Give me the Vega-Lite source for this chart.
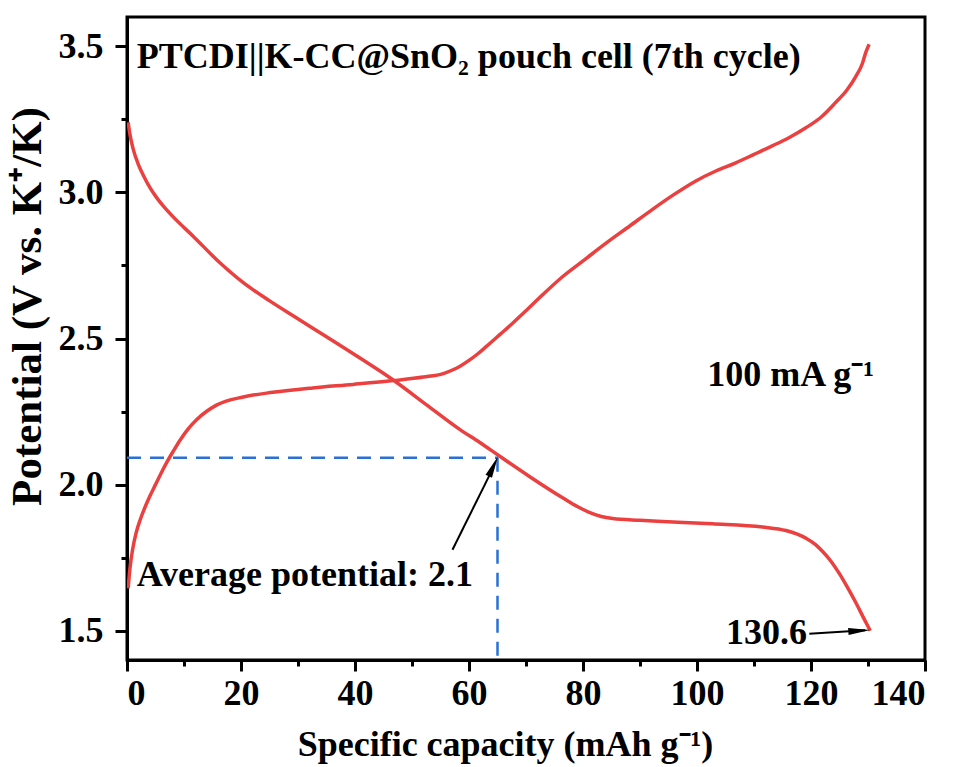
{
  "$schema": "https://vega.github.io/schema/vega-lite/v6.json",
  "width": 798,
  "height": 643,
  "autosize": {"type": "none"},
  "padding": {"left": 127, "top": 17, "right": 28, "bottom": 107},
  "background": "white",
  "datasets": {
    "curves": [
      {"series": "charge", "cap": 0.2, "V": 1.645},
      {"series": "charge", "cap": 0.5, "V": 1.71},
      {"series": "charge", "cap": 1.0, "V": 1.78},
      {"series": "charge", "cap": 1.6, "V": 1.835},
      {"series": "charge", "cap": 2.3, "V": 1.879},
      {"series": "charge", "cap": 3.0, "V": 1.915},
      {"series": "charge", "cap": 4.0, "V": 1.96},
      {"series": "charge", "cap": 5.0, "V": 2.0},
      {"series": "charge", "cap": 6.0, "V": 2.04},
      {"series": "charge", "cap": 7.0, "V": 2.077},
      {"series": "charge", "cap": 8.2, "V": 2.117},
      {"series": "charge", "cap": 9.3, "V": 2.152},
      {"series": "charge", "cap": 10.7, "V": 2.19},
      {"series": "charge", "cap": 12.2, "V": 2.222},
      {"series": "charge", "cap": 15.7, "V": 2.272},
      {"series": "charge", "cap": 20.4, "V": 2.3},
      {"series": "charge", "cap": 25.6, "V": 2.316},
      {"series": "charge", "cap": 32.6, "V": 2.331},
      {"series": "charge", "cap": 39.7, "V": 2.343},
      {"series": "charge", "cap": 46.7, "V": 2.356},
      {"series": "charge", "cap": 52.0, "V": 2.368},
      {"series": "charge", "cap": 55.5, "V": 2.38},
      {"series": "charge", "cap": 57.2, "V": 2.393},
      {"series": "charge", "cap": 58.5, "V": 2.406},
      {"series": "charge", "cap": 60.0, "V": 2.425},
      {"series": "charge", "cap": 61.5, "V": 2.447},
      {"series": "charge", "cap": 63.0, "V": 2.472},
      {"series": "charge", "cap": 65.5, "V": 2.515},
      {"series": "charge", "cap": 67.7, "V": 2.553},
      {"series": "charge", "cap": 70.0, "V": 2.595},
      {"series": "charge", "cap": 72.4, "V": 2.64},
      {"series": "charge", "cap": 76.5, "V": 2.713},
      {"series": "charge", "cap": 80.3, "V": 2.77},
      {"series": "charge", "cap": 84.1, "V": 2.827},
      {"series": "charge", "cap": 88.2, "V": 2.885},
      {"series": "charge", "cap": 92.2, "V": 2.942},
      {"series": "charge", "cap": 96.0, "V": 2.993},
      {"series": "charge", "cap": 99.8, "V": 3.039},
      {"series": "charge", "cap": 103.3, "V": 3.073},
      {"series": "charge", "cap": 106.8, "V": 3.101},
      {"series": "charge", "cap": 110.0, "V": 3.13},
      {"series": "charge", "cap": 113.2, "V": 3.159},
      {"series": "charge", "cap": 116.2, "V": 3.188},
      {"series": "charge", "cap": 119.1, "V": 3.221},
      {"series": "charge", "cap": 121.8, "V": 3.258},
      {"series": "charge", "cap": 124.3, "V": 3.307},
      {"series": "charge", "cap": 126.3, "V": 3.35},
      {"series": "charge", "cap": 127.9, "V": 3.398},
      {"series": "charge", "cap": 129.0, "V": 3.44},
      {"series": "charge", "cap": 129.6, "V": 3.478},
      {"series": "charge", "cap": 130.2, "V": 3.507},
      {"series": "discharge", "cap": 0.2, "V": 3.24},
      {"series": "discharge", "cap": 0.5, "V": 3.2},
      {"series": "discharge", "cap": 1.1, "V": 3.147},
      {"series": "discharge", "cap": 2.0, "V": 3.095},
      {"series": "discharge", "cap": 2.9, "V": 3.057},
      {"series": "discharge", "cap": 4.0, "V": 3.017},
      {"series": "discharge", "cap": 5.2, "V": 2.982},
      {"series": "discharge", "cap": 6.5, "V": 2.95},
      {"series": "discharge", "cap": 8.1, "V": 2.916},
      {"series": "discharge", "cap": 11.6, "V": 2.85},
      {"series": "discharge", "cap": 16.3, "V": 2.759},
      {"series": "discharge", "cap": 20.4, "V": 2.691},
      {"series": "discharge", "cap": 25.1, "V": 2.628},
      {"series": "discharge", "cap": 29.7, "V": 2.571},
      {"series": "discharge", "cap": 35.0, "V": 2.506},
      {"series": "discharge", "cap": 40.8, "V": 2.434},
      {"series": "discharge", "cap": 46.7, "V": 2.358},
      {"series": "discharge", "cap": 52.5, "V": 2.274},
      {"series": "discharge", "cap": 58.3, "V": 2.19},
      {"series": "discharge", "cap": 61.9, "V": 2.144},
      {"series": "discharge", "cap": 65.4, "V": 2.097},
      {"series": "discharge", "cap": 70.6, "V": 2.028},
      {"series": "discharge", "cap": 76.5, "V": 1.954},
      {"series": "discharge", "cap": 79.0, "V": 1.925},
      {"series": "discharge", "cap": 81.1, "V": 1.905},
      {"series": "discharge", "cap": 83.2, "V": 1.891},
      {"series": "discharge", "cap": 85.2, "V": 1.884},
      {"series": "discharge", "cap": 90.0, "V": 1.878},
      {"series": "discharge", "cap": 94.0, "V": 1.874},
      {"series": "discharge", "cap": 102.7, "V": 1.866},
      {"series": "discharge", "cap": 111.5, "V": 1.855},
      {"series": "discharge", "cap": 115.6, "V": 1.843},
      {"series": "discharge", "cap": 119.1, "V": 1.817},
      {"series": "discharge", "cap": 120.8, "V": 1.795},
      {"series": "discharge", "cap": 122.0, "V": 1.772},
      {"series": "discharge", "cap": 123.5, "V": 1.738},
      {"series": "discharge", "cap": 124.9, "V": 1.698},
      {"series": "discharge", "cap": 126.5, "V": 1.645},
      {"series": "discharge", "cap": 127.9, "V": 1.595},
      {"series": "discharge", "cap": 129.2, "V": 1.545},
      {"series": "discharge", "cap": 130.4, "V": 1.5}
    ],
    "guides": [
      {"x": 0, "y": 2.092, "x2": 65.0, "y2": 2.092},
      {"x": 65.0, "y": 2.092, "x2": 65.0, "y2": 1.4}
    ],
    "arrows": [
      {"x": 57.1, "y": 1.777, "x2": 64.3, "y2": 2.06},
      {"x": 119.7, "y": 1.49, "x2": 129.5, "y2": 1.502}
    ],
    "head1": [{"x": 65.1, "y": 2.097}],
    "head2": [{"x": 130.4, "y": 1.503}],
    "labelsLeft": [
      {"x": 1.7, "y": 3.427, "text": "PTCDI||K-CC@SnO₂ pouch cell (7th cycle)"},
      {"x": 1.7, "y": 1.652, "text": "Average potential: 2.1"},
      {"x": 101.8, "y": 2.337, "text": "100 mA g⁻¹"}
    ],
    "labelsRight": [
      {"x": 119.3, "y": 1.455, "text": "130.6"}
    ]
  },
  "layer": [
    {
      "data": {"name": "curves"},
      "mark": {"type": "line", "color": "#eb4040", "strokeWidth": 3.5, "interpolate": "monotone", "clip": true},
      "encoding": {
        "x": {
          "field": "cap", "type": "quantitative",
          "scale": {"domain": [0, 140], "nice": false, "zero": false},
          "axis": {
            "title": "Specific capacity (mAh g⁻¹)",
            "values": [0, 10, 20, 30, 40, 50, 60, 70, 80, 90, 100, 110, 120, 130, 140],
            "labelExpr": "datum.value % 20 === 0 ? datum.label : ''",
            "tickSize": {"condition": {"test": "datum.value % 20 !== 0", "value": 6}, "value": 11},
            "labelPadding": 5,
            "titlePadding": 16,
            "titleX": 378
          }
        },
        "y": {
          "field": "V", "type": "quantitative",
          "scale": {"domain": [1.4, 3.6], "nice": false, "zero": false},
          "axis": {
            "title": "Potential (V vs. K⁺/K)",
            "values": [1.5, 1.75, 2.0, 2.25, 2.5, 2.75, 3.0, 3.25, 3.5],
            "format": ".1f",
            "labelExpr": "(datum.value * 2) % 1 === 0 ? datum.label : ''",
            "tickSize": {"condition": {"test": "(datum.value * 2) % 1 !== 0", "value": 6}, "value": 12},
            "labelPadding": 12,
            "titlePadding": 9,
            "titleFontSize": 43,
            "titleY": 289
          }
        },
        "detail": {"field": "series", "type": "nominal"}
      }
    },
    {
      "data": {"name": "guides"},
      "mark": {"type": "rule", "color": "#2a70d8", "strokeWidth": 2.5, "strokeDash": [14, 9]},
      "encoding": {
        "x": {"field": "x", "type": "quantitative"},
        "y": {"field": "y", "type": "quantitative"},
        "x2": {"field": "x2"},
        "y2": {"field": "y2"}
      }
    },
    {
      "data": {"name": "arrows"},
      "mark": {"type": "rule", "color": "black", "strokeWidth": 2},
      "encoding": {
        "x": {"field": "x", "type": "quantitative"},
        "y": {"field": "y", "type": "quantitative"},
        "x2": {"field": "x2"},
        "y2": {"field": "y2"}
      }
    },
    {
      "data": {"name": "head1"},
      "mark": {"type": "point", "shape": "M0,0L-0.32,2L0.32,2Z", "filled": true, "color": "black", "opacity": 1, "size": 484, "angle": 25},
      "encoding": {
        "x": {"field": "x", "type": "quantitative"},
        "y": {"field": "y", "type": "quantitative"}
      }
    },
    {
      "data": {"name": "head2"},
      "mark": {"type": "point", "shape": "M0,0L-0.32,2L0.32,2Z", "filled": true, "color": "black", "opacity": 1, "size": 484, "angle": 86},
      "encoding": {
        "x": {"field": "x", "type": "quantitative"},
        "y": {"field": "y", "type": "quantitative"}
      }
    },
    {
      "data": {"name": "labelsLeft"},
      "mark": {"type": "text", "font": "Liberation Serif", "fontWeight": "bold", "fontSize": 36, "baseline": "alphabetic", "align": "left", "color": "black"},
      "encoding": {
        "x": {"field": "x", "type": "quantitative"},
        "y": {"field": "y", "type": "quantitative"},
        "text": {"field": "text", "type": "nominal"}
      }
    },
    {
      "data": {"name": "labelsRight"},
      "mark": {"type": "text", "font": "Liberation Serif", "fontWeight": "bold", "fontSize": 36, "baseline": "alphabetic", "align": "right", "color": "black"},
      "encoding": {
        "x": {"field": "x", "type": "quantitative"},
        "y": {"field": "y", "type": "quantitative"},
        "text": {"field": "text", "type": "nominal"}
      }
    }
  ],
  "config": {
    "font": "Liberation Serif",
    "view": {"stroke": "black", "strokeWidth": 3},
    "axis": {
      "grid": false,
      "domainColor": "black",
      "domainWidth": 3,
      "tickColor": "black",
      "tickWidth": 3,
      "labelFont": "Liberation Serif",
      "labelFontWeight": "bold",
      "labelFontSize": 36,
      "labelColor": "black",
      "titleFont": "Liberation Serif",
      "titleFontWeight": "bold",
      "titleFontSize": 36,
      "titleColor": "black"
    }
  }
}
